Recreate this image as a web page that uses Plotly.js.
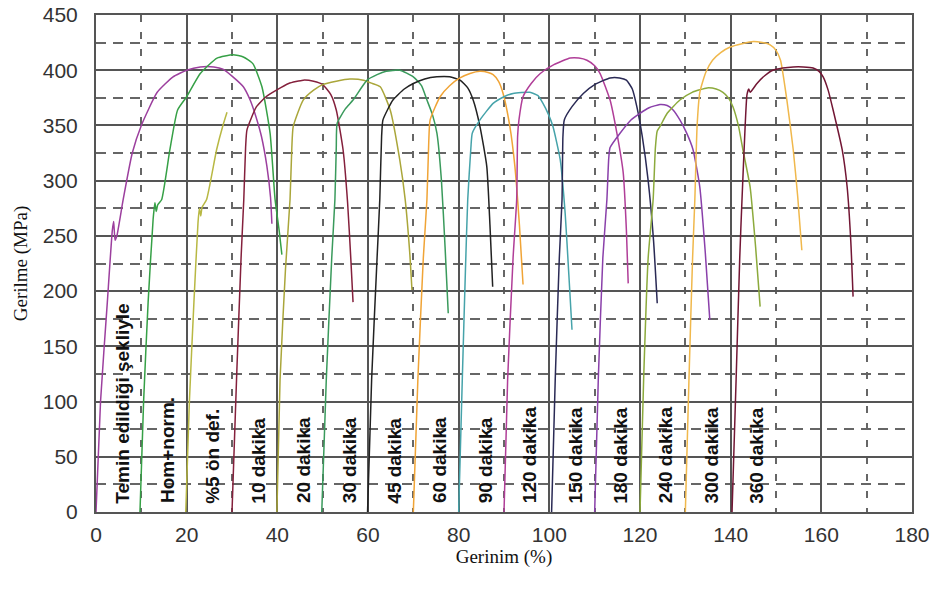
<!DOCTYPE html>
<html>
<head>
<meta charset="utf-8">
<script src="https://cdn.plot.ly/plotly-3.0.1.min.js"></script>
<style>html,body{margin:0;padding:0;background:#fff;}#chart{width:934px;height:590px;}</style>
</head>
<body>
<div id="chart"></div>
<script>
// Curve labels (specimen conditions)
const labels = ["Temin edildiği şekliyle", "Hom+norm.", "%5 ön def.", "10 dakika", "20 dakika", "30 dakika",
  "45 dakika", "60 dakika", "90 dakika", "120 dakika", "150 dakika", "180 dakika", "240 dakika", "300 dakika", "360 dakika"];
// Start strain (%) of each shifted curve
const startStrain = [0, 10, 20, 30, 40, 50, 60, 70, 80, 90, 100, 110, 120, 130, 140];

// Strain (%) / stress (MPa) pairs
const strainTemin = [0, 1, 2.5, 3.6, 3.9, 4.2, 4.6, 6, 8, 10, 13.5, 17, 20, 23, 26, 28, 30.2, 32.5, 34, 35.5, 36.5, 37.7, 38.5, 38.8];
const stressTemin = [0, 100, 190, 255, 263, 246, 250, 283, 325, 350, 380, 394, 400, 403, 403, 401, 394, 385, 373, 355, 340, 313, 285, 261];

const strainHom = [9.7, 10.5, 11.5, 12.6, 13.0, 13.3, 13.6, 14.5, 16.3, 18, 20, 23, 26.7, 30.2, 32.5, 34.6, 36.6, 38.4, 39.5, 40.4, 41];
const stressHom = [0, 100, 190, 265, 280, 272, 278, 283, 328, 364, 376, 397, 411, 414, 412, 406, 385, 343, 283, 255, 233];

const strainOnDef = [19.8, 20.6, 21.6, 22.5, 22.8, 23.1, 23.4, 24.4, 26.6, 28, 28.9];
const stressOnDef = [0, 100, 190, 262, 275, 268, 276, 283, 328, 350, 362];

const strain10 = [30, 31, 32, 32.6, 33.0, 33.3, 35.4, 37.5, 39.8, 42.5, 45.7, 48, 50, 51.8, 53, 54.5, 55.5, 56.2, 56.7];
const stress10 = [0, 120, 230, 283, 330, 346, 367, 376, 382, 388, 391, 390, 387, 378, 364, 328, 280, 230, 190];

const strain20 = [39.9, 40.6, 41.8, 42.8, 43.2, 43.5, 45.7, 48, 50, 53, 56, 59, 61, 62.7, 64.9, 67, 68.2, 69.2, 69.7];
const stress20 = [0, 120, 220, 283, 330, 349, 373, 382, 387, 390, 392, 391, 388, 385, 364, 319, 283, 235, 201];

const strain30 = [49.8, 50.8, 52, 52.7, 53.0, 53.2, 55, 56.7, 59.8, 62, 64, 67, 70, 71.8, 73, 74.2, 75.2, 76.2, 77, 77.7];
const stress30 = [0, 120, 230, 283, 330, 352, 365, 373, 391, 396, 399, 400, 394, 386, 373, 360, 343, 300, 240, 180];

const strain45 = [59.9, 60.8, 62, 62.6, 63.0, 63.3, 65.5, 68, 70, 72.5, 75.2, 78, 80.3, 82, 83.2, 84.7, 86.2, 86.9, 87.5];
const stress45 = [0, 120, 230, 283, 340, 355, 373, 383, 388, 392, 394, 394, 391, 384, 373, 349, 313, 260, 204];

const strain60 = [70, 71, 72.2, 73, 73.4, 73.7, 75.9, 78, 80.3, 82.5, 84.7, 86.5, 87.6, 88.8, 89.8, 91.3, 92.4, 93.4, 94.2];
const stress60 = [0, 120, 230, 283, 335, 355, 376, 386, 393, 397, 399, 398, 396, 390, 379, 349, 313, 260, 206];

const strain90 = [80, 80.8, 81.5, 82, 82.7, 83, 84.7, 87.6, 90, 92, 95.7, 97.5, 98.6, 99.8, 100.8, 102.4, 103.5, 104.3, 105];
const stress90 = [0, 120, 220, 283, 330, 343, 355, 370, 376, 379, 380, 377, 370, 360, 349, 319, 270, 215, 165];

const strain120 = [90, 90.8, 92, 92.8, 93, 93.3, 94.2, 96, 98, 101, 104.6, 106.5, 108.3, 110, 111.2, 113.4, 114.9, 116.3, 117, 117.4];
const stress120 = [0, 120, 230, 283, 340, 355, 376, 388, 397, 405, 411, 411, 409, 404, 397, 373, 343, 307, 255, 207];

const strain150 = [100.5, 101.3, 102.2, 102.8, 103, 103.3, 105, 107.5, 110, 113.4, 115.5, 117, 118.3, 119.3, 120.5, 121.8, 123, 123.8];
const stress150 = [0, 120, 230, 283, 340, 355, 367, 379, 387, 393, 393, 391, 383, 367, 340, 300, 245, 189];

const strain180 = [110, 110.8, 111.8, 112.7, 113.1, 113.4, 115.6, 118, 120, 122, 124.4, 126, 127.3, 128.8, 130.3, 131.7, 133.2, 134.4, 135.4];
const stress180 = [0, 120, 230, 283, 320, 330, 343, 355, 361, 366, 369, 368, 364, 355, 343, 328, 294, 235, 174];

const strain240 = [120, 120.8, 121.8, 122.9, 123.4, 123.8, 124.4, 126, 128.8, 131.5, 134.8, 136.8, 138.3, 139.5, 140.5, 141.7, 142.7, 144.3, 145.5, 146.5];
const stress240 = [0, 120, 230, 283, 330, 345, 349, 361, 373, 380, 384, 383, 380, 375, 367, 350, 328, 294, 240, 186];

const strain300 = [130, 130.8, 131.6, 132.1, 132.6, 133.2, 134.5, 136, 137.8, 139.9, 142.5, 145, 147, 148.7, 150, 151, 152.4, 153.8, 154.8, 155.7];
const stress300 = [0, 120, 230, 283, 350, 380, 398, 409, 416, 421, 424, 426, 425, 423, 418, 409, 373, 328, 285, 237];

const strain360 = [140.3, 141.2, 142, 142.5, 143.2, 143.6, 144.0, 144.3, 145.8, 147.5, 149.3, 151.5, 153.8, 156, 158.2, 159.5, 160.4, 161.5, 162.6, 164.6, 165.7, 166.5, 167];
const stress360 = [0, 120, 230, 283, 350, 378, 383, 380, 388, 395, 400, 402, 403, 403, 402, 399, 394, 382, 364, 328, 294, 245, 195];

const seriesStrain = [strainTemin, strainHom, strainOnDef, strain10, strain20, strain30, strain45, strain60, strain90, strain120, strain150, strain180, strain240, strain300, strain360];
const seriesStress = [stressTemin, stressHom, stressOnDef, stress10, stress20, stress30, stress45, stress60, stress90, stress120, stress150, stress180, stress240, stress300, stress360];

const colors = ["#9c3f9e", "#36a046", "#b8b843", "#84203c", "#aaa63a", "#3a9a5c", "#222222", "#f0a436",
  "#46a3aa", "#b03e98", "#2a2a55", "#8a40aa", "#8caa3c", "#f0b84c", "#721634"];

const traces = seriesStrain.map((xs, i) => ({
  x: xs, y: seriesStress[i], type: "scatter", mode: "lines",
  line: {color: colors[i], width: 1.5, shape: "spline", smoothing: 0.5},
  name: labels[i], hoverinfo: "skip"
}));

const annotations = labels.map((t, i) => ({
  text: "<b>" + t + "</b>", x: startStrain[i] + 5.8, y: 6, xref: "x", yref: "y",
  textangle: -90, xanchor: "center", yanchor: "bottom", showarrow: false,
  font: {family: "Liberation Sans, Arial, sans-serif", size: 19, color: "#111"}
}));

const layout = {
  width: 934, height: 590,
  margin: {l: 96, r: 22, t: 15, b: 78},
  paper_bgcolor: "#fff", plot_bgcolor: "#fff",
  showlegend: false, hovermode: false,
  xaxis: {
    range: [0, 180], tick0: 0, dtick: 20, ticks: "",
    showgrid: true, gridcolor: "#555", gridwidth: 2,
    minor: {dtick: 10, showgrid: true, gridcolor: "#666", gridwidth: 2, griddash: "7px,10px"},
    zeroline: false, showline: true, mirror: true, linecolor: "#555", linewidth: 2,
    tickfont: {family: "Liberation Sans, Arial, sans-serif", size: 21, color: "#333"},
    ticklabelstandoff: 3,
    title: {text: "Gerinim (%)", font: {family: "Liberation Serif, Times New Roman, serif", size: 19, color: "#111"}, standoff: 0}
  },
  yaxis: {
    range: [0, 450], tick0: 0, dtick: 50, ticks: "",
    showgrid: true, gridcolor: "#555", gridwidth: 2,
    minor: {dtick: 25, showgrid: true, gridcolor: "#666", gridwidth: 2, griddash: "10px,7px"},
    zeroline: false, showline: true, mirror: true, linecolor: "#555", linewidth: 2,
    tickfont: {family: "Liberation Sans, Arial, sans-serif", size: 21, color: "#333"},
    ticklabelstandoff: 12,
    title: {text: "Gerilme (MPa)", font: {family: "Liberation Serif, Times New Roman, serif", size: 19, color: "#111"}, standoff: 10}
  },
  annotations: annotations
};

Plotly.newPlot("chart", traces, layout, {staticPlot: true, displayModeBar: false});
</script>
</body>
</html>
